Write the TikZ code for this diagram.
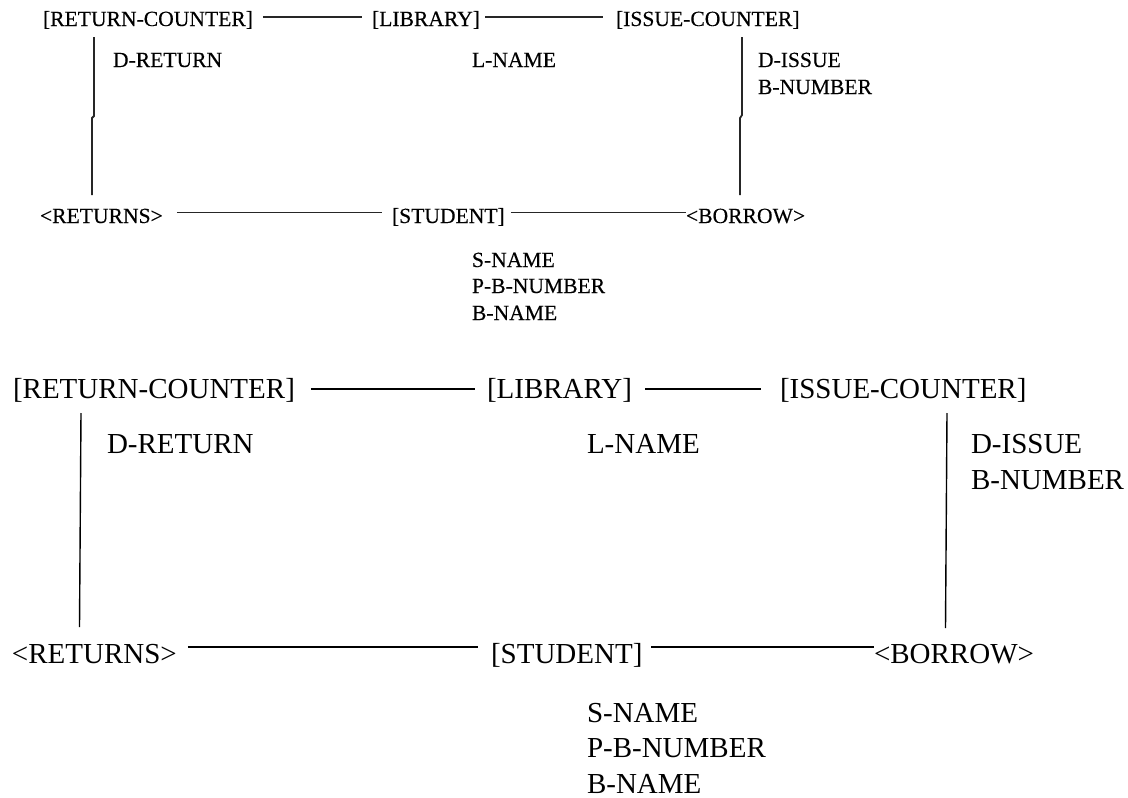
\documentclass[tikz,border=0pt]{standalone}
\usepackage{fontspec}
\setmainfont{Liberation Serif}
\newfontfamily\smallserif[FakeBold=0.3]{Liberation Serif}

\tikzset{
  big text/.style={font=\fontsize{29}{35}\selectfont, inner sep=0pt, outer sep=0pt, anchor=base west},
  small text/.style={font=\smallserif\fontsize{21.6}{26}\selectfont, inner sep=0pt, outer sep=0pt, anchor=base west},
  big upper/.style={big text, text height=18pt, text depth=0pt},
  big lower/.style={big text, text height=32pt, text depth=0pt},
  small upper/.style={small text, text height=18pt, text depth=0pt},
  small lower/.style={small text, text height=21pt, text depth=0pt},
  link/.style={draw=black, line width=1.4pt},
  small link/.style={draw=black!85, line width=1.8pt},
}

\begin{document}
\begin{tikzpicture}[x=1pt,y=-1pt]
\useasboundingbox (0,0) rectangle (1128,798);

% ---------- small diagram ----------
\node[small upper] (trc)  at (43,26)  {[RETURN-COUNTER]};
\node[small upper] (tlib) at (372,26) {[LIBRARY]};
\node[small upper] (tic)  at (616,26) {[ISSUE-COUNTER]};
\node[small lower] (tret) at (40,223)  {<RETURNS>};
\node[small lower] (tstu) at (392,223) {[STUDENT]};
\node[small lower] (tbor) at (686,223) {<BORROW>};
\node[small text] (tdret)  at (113,67) {D-RETURN};
\node[small text] (tlname) at (472,67) {L-NAME};
\node[small text] (tdiss)  at (758,67) {D-ISSUE};
\node[small text] (tbnum)  at (758,94) {B-NUMBER};
\node[small text] (tsname) at (472,267) {S-NAME};
\node[small text] (tpbnum) at (472,293) {P-B-NUMBER};
\node[small text] (tbname) at (472,320) {B-NAME};

\draw[small link, shorten <=10pt, shorten >=10pt] (trc.east) -- (tlib.west);
\draw[small link, shorten <=5pt, shorten >=13pt] (tlib.east) -- (tic.west);
\draw[small link, shorten <=14pt, shorten >=10pt] (tret.east) -- (tstu.west);
\draw[small link, shorten <=6pt] (tstu.east) -- (tbor.west);

\coordinate (tl1) at (94,37);
\coordinate (tl2) at (94,116);
\coordinate (tl3) at (92,118);
\coordinate (tl4) at (92,195);
\coordinate (tr1) at (742,37);
\coordinate (tr2) at (742,115);
\coordinate (tr3) at (740,118);
\coordinate (tr4) at (740,195);
\draw[small link] (tl1) -- (tl2) -- (tl3) -- (tl4);
\draw[small link] (tr1) -- (tr2) -- (tr3) -- (tr4);

% ---------- large diagram ----------
\node[big upper] (brc)  at (13,398)  {[RETURN-COUNTER]};
\node[big upper] (blib) at (487,398) {[LIBRARY]};
\node[big upper] (bic)  at (780,398) {[ISSUE-COUNTER]};
\node[big lower] (bret) at (12,663)  {<RETURNS>};
\node[big lower] (bstu) at (491,663) {[STUDENT]};
\node[big lower] (bbor) at (874,663) {<BORROW>};
\node[big text] (bdret)  at (107,453) {D-RETURN};
\node[big text] (blname) at (587,453) {L-NAME};
\node[big text] (bdiss)  at (971,453) {D-ISSUE};
\node[big text] (bbnum)  at (971,489) {B-NUMBER};
\node[big text] (bsname) at (587,722) {S-NAME};
\node[big text] (bpbnum) at (587,757) {P-B-NUMBER};
\node[big text] (bbname) at (587,793) {B-NAME};

\draw[link, shorten <=16pt, shorten >=12pt] (brc.east) -- (blib.west);
\draw[link, shorten <=13pt, shorten >=19pt] (blib.east) -- (bic.west);
\draw[link, shorten <=11pt, shorten >=13pt] (bret.east) -- (bstu.west);
\draw[link, shorten <=9pt] (bstu.east) -- (bbor.west);

\coordinate (bl1) at (81,413);
\coordinate (bl2) at (79.5,627);
\coordinate (br1) at (947,413);
\coordinate (br2) at (945.5,628);
\draw[link] (bl1) -- (bl2);
\draw[link] (br1) -- (br2);
\end{tikzpicture}
\end{document}
